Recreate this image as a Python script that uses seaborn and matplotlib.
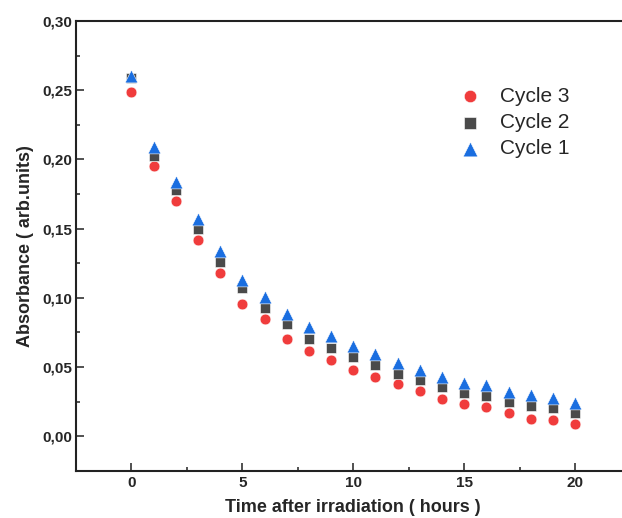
import numpy as np
import pandas as pd
import matplotlib
matplotlib.use("Agg")
import matplotlib.pyplot as plt
import seaborn as sns
from matplotlib.ticker import FixedLocator, MultipleLocator

# ---- data ----
hours = [0, 1, 2, 3, 4, 5, 6, 7, 8, 9, 10, 11, 12, 13, 14, 15, 16, 17, 18, 19, 20]
cycle3 = [0.249, 0.195, 0.170, 0.142, 0.118, 0.0955, 0.0844, 0.0703, 0.0616, 0.0553, 0.0481,
          0.0424, 0.0373, 0.0323, 0.0267, 0.0231, 0.0207, 0.0169, 0.0126, 0.0118, 0.0087]
cycle2 = [0.259, 0.2027, 0.178, 0.1496, 0.126, 0.107, 0.0926, 0.0808, 0.0705, 0.0635, 0.057,
          0.0512, 0.0452, 0.0404, 0.0356, 0.031, 0.0291, 0.0248, 0.0221, 0.020, 0.0164]
cycle1 = [0.2605, 0.2088, 0.184, 0.157, 0.134, 0.113, 0.1003, 0.0885, 0.0789, 0.0721, 0.0654,
          0.0594, 0.053, 0.0481, 0.0429, 0.0385, 0.0368, 0.032, 0.0294, 0.0272, 0.0238]
series_names = ["Cycle 3", "Cycle 2", "Cycle 1"]
x_ticks = [0, 5, 10, 15, 20]
y_ticks = [0.00, 0.05, 0.10, 0.15, 0.20, 0.25, 0.30]
y_tick_labels = ["0,00", "0,05", "0,10", "0,15", "0,20", "0,25", "0,30"]
x_label = "Time after irradiation ( hours )"
y_label = "Absorbance ( arb.units)"

# ---- styling ----
sns.set_style("ticks")
plt.rcParams["font.family"] = ["Liberation Sans", "DejaVu Sans"]

colors = {"Cycle 3": "#F03C3C", "Cycle 2": "#4A4A4A", "Cycle 1": "#1A6EE0"}
markers = {"Cycle 3": "o", "Cycle 2": "s", "Cycle 1": "^"}
sizes = {"Cycle 3": 60, "Cycle 2": 55, "Cycle 1": 85}

df = pd.DataFrame({
    "hours": hours * 3,
    "absorbance": cycle3 + cycle2 + cycle1,
    "cycle": [series_names[0]] * len(hours) + [series_names[1]] * len(hours) + [series_names[2]] * len(hours),
})

fig = plt.figure(figsize=(6.22, 5.18), dpi=100)
W, H = 622, 518
left, right, top, bottom = 76, 630.5, 21, 470.7
ax = fig.add_axes([left / W, 1 - bottom / H, (right - left) / W, (bottom - top) / H])

for name in series_names:
    sub = df[df["cycle"] == name]
    sns.scatterplot(data=sub, x="hours", y="absorbance", ax=ax, color=colors[name],
                    marker=markers[name], s=sizes[name], edgecolor="white",
                    linewidth=0.4, label=name, zorder=3)

ax.set_xlim(-2.5, 22.5)
ax.set_ylim(-0.025, 0.30)
ax.xaxis.set_major_locator(FixedLocator(x_ticks))
ax.set_xticklabels([str(v) for v in x_ticks])
ax.xaxis.set_minor_locator(MultipleLocator(2.5))
ax.yaxis.set_major_locator(FixedLocator(y_ticks))
ax.set_yticklabels(y_tick_labels)
ax.yaxis.set_minor_locator(MultipleLocator(0.025))

for lab in ax.get_xticklabels() + ax.get_yticklabels():
    lab.set_fontweight("bold")
    lab.set_fontsize(11)

ax.tick_params(which="major", direction="in", length=6, width=1.1, color="#222222", pad=4)
ax.tick_params(which="minor", direction="in", length=3.2, width=1.1, color="#222222")
ax.tick_params(axis="y", which="major", pad=3)
ax.tick_params(top=False, right=False, which="both")

for sp in ax.spines.values():
    sp.set_linewidth(1.5)
    sp.set_color("#222222")
ax.spines["right"].set_visible(False)

ax.set_xlabel(x_label, fontsize=13, fontweight="bold", labelpad=6)
ax.set_ylabel(y_label, fontsize=13, fontweight="bold", labelpad=6)

ax.legend(loc="center left", bbox_to_anchor=(459.6 / W, 1 - 122.7 / H),
          bbox_transform=fig.transFigure, frameon=False, fontsize=15,
          handlelength=1.0, handletextpad=0.94, labelspacing=0.35, borderpad=0,
          borderaxespad=0, markerscale=1.15)

fig.savefig("out.png", dpi=100)
